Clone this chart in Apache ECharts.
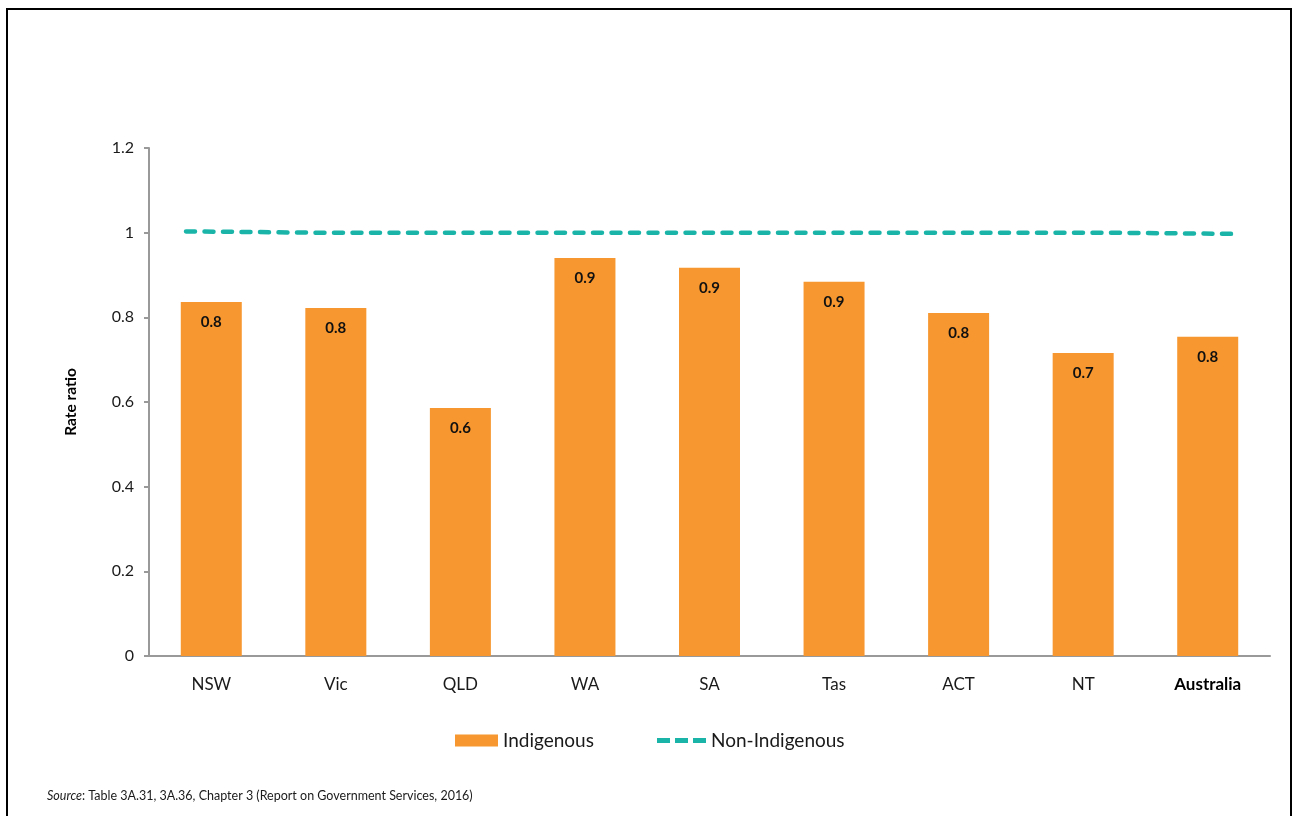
<!DOCTYPE html>
<html>
<head>
<meta charset="utf-8">
<script src="https://cdn.jsdelivr.net/npm/echarts@6/dist/echarts.min.js"></script>
<style>
  html, body { margin: 0; padding: 0; background: #fff; }
  #chart { width: 1293px; height: 816px; }
  #frame {
    position: absolute; left: 6px; top: 8px; width: 1282px; height: 840px;
    border: 2px solid #000; pointer-events: none;
  }
</style>
</head>
<body>
<div id="chart"></div>
<div id="frame"></div>
<script>
const categories = ['NSW', 'Vic', 'QLD', 'WA', 'SA', 'Tas', 'ACT', 'NT', 'Australia']
const indigenous = [0.836, 0.822, 0.586, 0.940, 0.917, 0.884, 0.810, 0.716, 0.754]
const nonIndigenous = [1.003, 1.0, 1.0, 1.0, 1.0, 1.0, 1.0, 1.0, 0.997]
const yTicks = [0, 0.2, 0.4, 0.6, 0.8, 1, 1.2]

const font = 'Lato, "Open Sans", sans-serif'
const teal = '#1ab5a8'
const chart = echarts.init(document.getElementById('chart'))

chart.setOption({
  animation: false,
  textStyle: { fontFamily: font },
  grid: [
    { left: 149, right: 23, top: 148, bottom: 160 },
    // line sits over the bars' outer edges, like the original
    { left: 186, right: 55, top: 148, bottom: 160 },
  ],
  legend: [
    {
      left: 450, top: 726,
      itemWidth: 43, itemHeight: 12,
      textStyle: { fontSize: 19, color: '#1a1a1a', fontFamily: font },
      data: [{ name: 'Indigenous', icon: 'rect' }],
    },
    {
      left: 652, top: 726,
      itemWidth: 49, itemHeight: 5,
      textStyle: { fontSize: 19, color: '#1a1a1a', fontFamily: font },
      data: [{
        name: 'Non-Indigenous',
        icon: 'path://M0,0h13v5h-13z M18,0h13v5h-13z M36,0h13v5h-13z',
      }],
    },
  ],
  xAxis: [
    {
      type: 'category', gridIndex: 0, data: categories,
      axisLine: { lineStyle: { color: '#999', width: 2 } },
      axisTick: { length: 5, lineStyle: { color: '#999', width: 2 } },
      axisLabel: {
        color: '#1a1a1a', fontSize: 17, margin: 20,
        formatter: v => v === 'Australia' ? '{b|' + v + '}' : v,
        rich: { b: { fontWeight: 'bold', fontSize: 17, color: '#000' } },
      },
    },
    {
      type: 'category', gridIndex: 1, data: categories, boundaryGap: false,
      show: false,
    },
  ],
  yAxis: [
    {
      type: 'value', gridIndex: 0, min: 0, max: 1.2, interval: 0.2,
      name: 'Rate ratio', nameLocation: 'middle', nameGap: 70, nameRotate: 90,
      nameTextStyle: { fontSize: 15.5, fontWeight: 'bold', color: '#000' },
      axisLine: { show: true, lineStyle: { color: '#999', width: 2 } },
      axisTick: { show: true, length: 5, lineStyle: { color: '#999', width: 2 } },
      axisLabel: {
        color: '#1a1a1a', fontSize: 16, margin: 15,
        formatter: v => yTicks.includes(+v.toFixed(1)) ? String(+v.toFixed(1)) : '',
      },
      splitLine: { show: false },
    },
    {
      type: 'value', gridIndex: 1, min: 0, max: 1.2, show: false,
    },
  ],
  series: [
    {
      name: 'Indigenous', type: 'bar', xAxisIndex: 0, yAxisIndex: 0,
      data: indigenous, barWidth: 61,
      itemStyle: { color: '#f7972f' },
      label: {
        show: true, position: 'insideTop', distance: 13,
        fontSize: 15, fontWeight: 'bold', color: '#111',
        formatter: p => p.value.toFixed(1),
      },
    },
    {
      name: 'Non-Indigenous', type: 'line', xAxisIndex: 1, yAxisIndex: 1,
      data: nonIndigenous, symbol: 'none',
      lineStyle: { color: teal, width: 4.5, type: [9, 9.5], cap: 'round' },
      itemStyle: { color: teal },
    },
  ],
  graphic: [{
    type: 'text', left: 47, top: 789,
    style: {
      text: '{i|Source}: Table 3A.31, 3A.36, Chapter 3 (Report on Government Services, 2016)',
      fontSize: 12.5, fill: '#1a1a1a', fontFamily: font,
      rich: { i: { fontStyle: 'italic', fontSize: 12.5, fontFamily: font } },
    },
  }],
})
</script>
</body>
</html>
